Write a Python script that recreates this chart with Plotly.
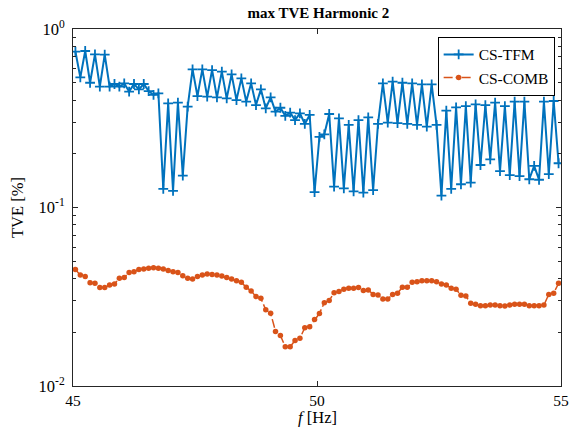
import numpy as np
import plotly.graph_objects as go

# frequency points (Hz), 0.1 Hz bins centred at 45.05 ... 54.95
freq = [round(45.05 + 0.1 * i, 2) for i in range(100)]

tve_tfm = [0.746, 0.536, 0.753, 0.500, 0.721, 0.475, 0.718, 0.475, 0.492, 0.475,
           0.496, 0.446, 0.492, 0.459, 0.492, 0.449, 0.427, 0.436, 0.127, 0.383,
           0.124, 0.387, 0.151, 0.367, 0.594, 0.421, 0.594, 0.418, 0.589, 0.414,
           0.577, 0.409, 0.557, 0.400, 0.529, 0.392, 0.496, 0.375, 0.459, 0.359,
           0.414, 0.344, 0.362, 0.326, 0.340, 0.309, 0.337, 0.294, 0.330, 0.122,
           0.249, 0.257, 0.334, 0.131, 0.316, 0.128, 0.290, 0.123, 0.309, 0.121,
           0.320, 0.125, 0.294, 0.496, 0.299, 0.507, 0.297, 0.500, 0.294, 0.496,
           0.290, 0.490, 0.284, 0.490, 0.290, 0.1165, 0.349, 0.127, 0.364, 0.135,
           0.370, 0.138, 0.378, 0.173, 0.375, 0.186, 0.387, 0.160, 0.370, 0.152,
           0.392, 0.150, 0.392, 0.144, 0.171, 0.143, 0.392, 0.154, 0.395, 0.177]

tve_comb = [0.0450, 0.0418, 0.0410, 0.0379, 0.0376, 0.0356, 0.0356, 0.0368, 0.0373, 0.0401,
            0.0406, 0.0433, 0.0437, 0.0450, 0.0452, 0.0456, 0.0460, 0.0456, 0.0452, 0.0443,
            0.0437, 0.0433, 0.0415, 0.0401, 0.0398, 0.0410, 0.0418, 0.0424, 0.0422, 0.0418,
            0.0413, 0.0406, 0.0398, 0.0389, 0.0381, 0.0357, 0.0341, 0.0317, 0.0310, 0.0267,
            0.0256, 0.0202, 0.0192, 0.0166, 0.0166, 0.0180, 0.0185, 0.0212, 0.0215, 0.0236,
            0.0255, 0.0293, 0.0301, 0.0333, 0.0338, 0.0348, 0.0353, 0.0353, 0.0356, 0.0343,
            0.0345, 0.0326, 0.0323, 0.0307, 0.0307, 0.0326, 0.0331, 0.0357, 0.0357, 0.0381,
            0.0384, 0.0389, 0.0389, 0.0389, 0.0384, 0.0373, 0.0368, 0.0353, 0.0348, 0.0322,
            0.0319, 0.0291, 0.0287, 0.0282, 0.0282, 0.0284, 0.0284, 0.0282, 0.0281, 0.0284,
            0.0287, 0.0287, 0.0287, 0.0282, 0.0282, 0.0282, 0.0284, 0.0326, 0.0331, 0.0376]

x_ticks = [45, 50, 55]
y_ticks = [0.01, 0.1, 1]
y_ticktext = ["10<sup>-2</sup>", "10<sup>-1</sup>", "10<sup>0</sup>"]
y_minor = [k * 10.0 ** e for e in (-2, -1) for k in range(2, 10)]

BLUE = "#0072BD"
ORANGE = "#D95319"
AX = "#262626"
FONT = "Liberation Serif"
FS = 16.5
TFS = 15.5

fig = go.Figure()
fig.add_trace(go.Scatter(
    x=freq, y=tve_tfm, name="CS-TFM", mode="lines+markers",
    line=dict(color=BLUE, width=2),
    marker=dict(symbol="cross-thin", size=7, line=dict(color=BLUE, width=1.8), color=BLUE),
))
fig.add_trace(go.Scatter(
    x=freq, y=tve_comb, name="CS-COMB", mode="lines+markers",
    line=dict(color=ORANGE, width=1.5, dash="dashdot"),
    marker=dict(symbol="circle", size=5.5, color=ORANGE),
))

fig.update_layout(
    width=581, height=441,
    margin=dict(l=73, r=17, t=29, b=55),
    paper_bgcolor="white", plot_bgcolor="white",
    font=dict(family=FONT, size=FS, color="black"),
    title=dict(text="<b>max TVE Harmonic 2</b>", x=0.548, xanchor="center",
               y=0.972, yanchor="middle", font=dict(family=FONT, size=15, color="black")),
    showlegend=True,
    legend=dict(x=0.987, y=0.978, xanchor="right", yanchor="top",
                bgcolor="white", bordercolor="black", borderwidth=1,
                font=dict(family=FONT, size=15.5, color="black"),
                tracegroupgap=0, itemwidth=30),
    annotations=[dict(text="<i>f</i> [Hz]", xref="paper", yref="paper", x=0.5, y=-0.088,
                      xanchor="center", yanchor="middle", showarrow=False,
                      font=dict(family=FONT, size=FS, color="black"))],
)
fig.update_xaxes(
    range=[45, 55], tickmode="array", tickvals=x_ticks,
    ticks="inside", ticklen=5, tickcolor=AX, showline=True, linecolor=AX, linewidth=1,
    mirror="ticks", showgrid=False, zeroline=False,
    tickfont=dict(family=FONT, size=TFS, color="black"),
)
fig.update_yaxes(
    type="log", range=[-2, 0], tickmode="array", tickvals=y_ticks, ticktext=y_ticktext,
    ticks="inside", ticklen=5, tickcolor=AX, showline=True, linecolor=AX, linewidth=1,
    mirror="ticks", showgrid=False, zeroline=False, ticklabelstandoff=4,
    minor=dict(tickmode="array", tickvals=y_minor, ticks="inside", ticklen=3, tickcolor=AX, showgrid=False),
    tickfont=dict(family=FONT, size=FS, color="black"),
    title=dict(text="TVE [%]", font=dict(family=FONT, size=FS, color="black"), standoff=10),
)

fig.write_html("out.html")
